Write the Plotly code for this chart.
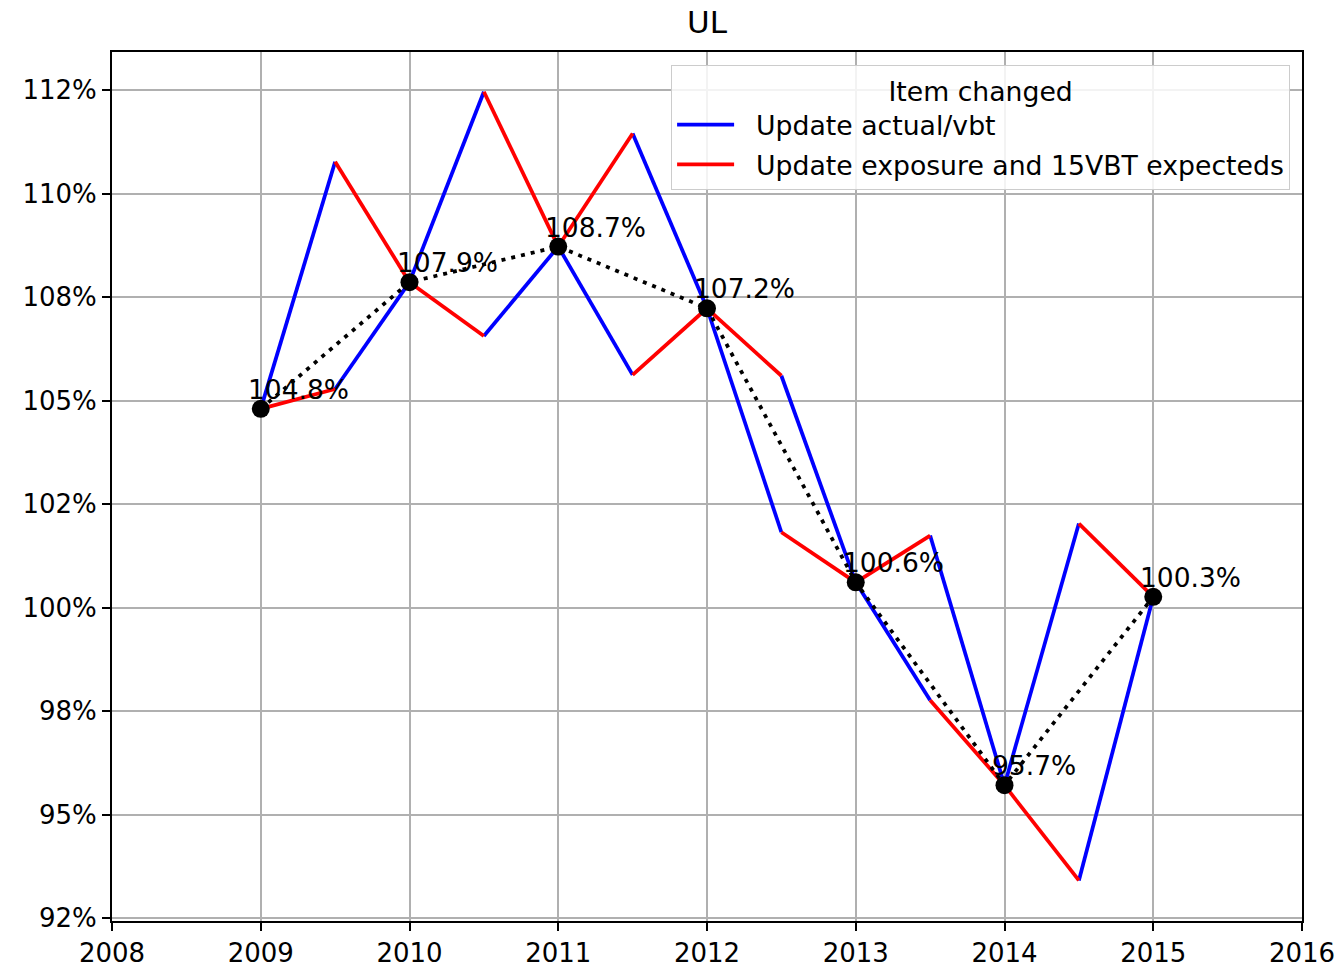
import plotly.graph_objects as go

# ---- data ----
years = [2009, 2010, 2011, 2012, 2013, 2014, 2015]
year_values = [104.80, 107.86, 108.72, 107.23, 100.61, 95.71, 100.26]
mid_years = [2009.5, 2010.5, 2011.5, 2012.5, 2013.5, 2014.5]
# intermediate value when "Update actual/vbt" is applied first
blue_first_mid = [110.77, 112.46, 105.62, 101.82, 97.76, 102.03]
# intermediate value when "Update exposure and 15VBT expecteds" is applied first
red_first_mid = [105.28, 106.56, 111.45, 105.60, 101.74, 93.41]

y_tick_values = [92.5, 95.0, 97.5, 100.0, 102.5, 105.0, 107.5, 110.0, 112.5]
y_tick_labels = ["92%", "95%", "98%", "100%", "102%", "105%", "108%", "110%", "112%"]
x_tick_values = [2008, 2009, 2010, 2011, 2012, 2013, 2014, 2015, 2016]

series_names = ["Update actual/vbt", "Update exposure and 15VBT expecteds"]
legend_title = "Item changed"
chart_title = "UL"

FONT = "DejaVu Sans"
FS = 26
NB = "\u00a0\u00a0"  # gap between legend line sample and text

# build segment paths
blue_x, blue_y, red_x, red_y = [], [], [], []
for i in range(len(mid_years)):
    # blue: year -> blue-first mid ; red-first mid -> next year
    blue_x += [years[i], mid_years[i], None, mid_years[i], years[i + 1], None]
    blue_y += [year_values[i], blue_first_mid[i], None, red_first_mid[i], year_values[i + 1], None]
    # red: year -> red-first mid ; blue-first mid -> next year
    red_x += [years[i], mid_years[i], None, mid_years[i], years[i + 1], None]
    red_y += [year_values[i], red_first_mid[i], None, blue_first_mid[i], year_values[i + 1], None]

fig = go.Figure()
fig.add_trace(go.Scatter(x=blue_x, y=blue_y, mode="lines", name=NB + series_names[0],
                         legendgroup="a",
                         line=dict(color="#0000ff", width=3.75), connectgaps=False))
fig.add_trace(go.Scatter(x=red_x, y=red_y, mode="lines", name=NB + series_names[1],
                         legendgroup="b",
                         line=dict(color="#ff0000", width=3.75), connectgaps=False))
fig.add_trace(go.Scatter(x=years, y=year_values, mode="lines", showlegend=False,
                         line=dict(color="black", width=3.75, dash="4px,6px")))
fig.add_trace(go.Scatter(x=years, y=year_values, mode="markers", showlegend=False,
                         marker=dict(color="black", size=18)))

for x, v in zip(years, year_values):
    fig.add_annotation(x=x, y=v, text=f"{v:.1f}%", showarrow=False,
                       xanchor="left", yanchor="bottom", xshift=-15, yshift=2,
                       font=dict(family=FONT, size=26.5, color="black"))

fig.update_layout(
    width=1342, height=968,
    margin=dict(l=112, r=40, t=52, b=47, autoexpand=False),
    paper_bgcolor="white", plot_bgcolor="white",
    font=dict(family=FONT, size=FS, color="black"),
    title=dict(text=chart_title, x=0.5, xref="paper", xanchor="center",
               y=1 - 22 / 968, yref="container", yanchor="middle",
               font=dict(family=FONT, size=31, color="black")),
    legend=dict(
        title=dict(text=legend_title, side="top center",
                   font=dict(family=FONT, size=26.7, color="black")),
        font=dict(family=FONT, size=26.7, color="black"),
        x=0.99, xanchor="right", y=0.985, yanchor="top",
        itemwidth=57, tracegroupgap=2,
        bgcolor="rgba(255,255,255,0.85)", bordercolor="#cccccc", borderwidth=1,
    ),
)
fig.update_xaxes(range=[2008, 2016], tickvals=x_tick_values,
                 ticktext=[str(t) for t in x_tick_values],
                 showgrid=True, gridcolor="#b0b0b0", gridwidth=2,
                 showline=True, linecolor="black", linewidth=2, mirror=True,
                 ticks="outside", ticklen=8, tickwidth=2, tickcolor="black",
                 zeroline=False, automargin=False)
fig.update_yaxes(range=[92.43, 113.42], tickvals=y_tick_values, ticktext=y_tick_labels,
                 showgrid=True, gridcolor="#b0b0b0", gridwidth=2,
                 showline=True, linecolor="black", linewidth=2, mirror=True,
                 ticks="outside", ticklen=8, tickwidth=2, tickcolor="black",
                 zeroline=False, automargin=False)

fig.write_html("out.html", config={"displayModeBar": False},
               post_script="document.body.style.margin='0';")
